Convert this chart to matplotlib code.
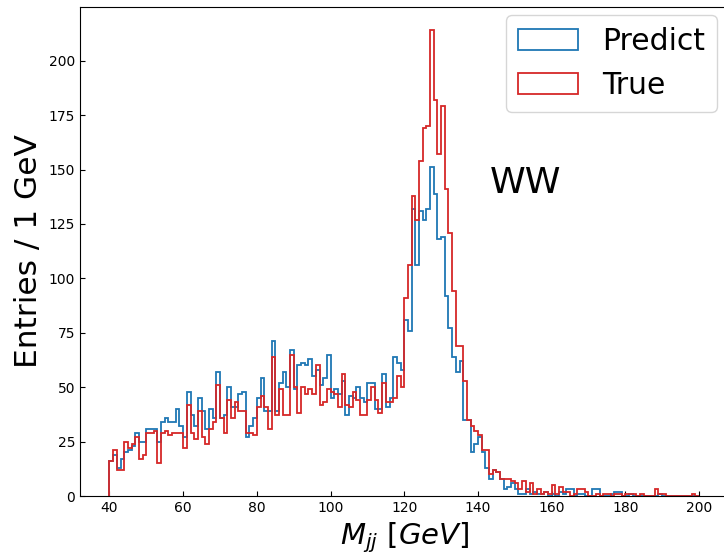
import numpy as np
import matplotlib
matplotlib.use("Agg")
import matplotlib.pyplot as plt

# 1 GeV bins from 40 to 200
edges = np.arange(40, 201, 1)

predict = [16, 19, 13, 17, 20, 21, 23, 29, 25, 25,
           31, 31, 31, 25, 34, 36, 34, 34, 40, 32,
           27, 48, 37, 32, 45, 39, 31, 40, 36, 57,
           36, 37, 50, 41, 41, 47, 48, 27, 32, 36,
           45, 54, 39, 39, 71, 39, 52, 57, 50, 67,
           49, 60, 61, 60, 63, 55, 58, 51, 54, 65,
           45, 49, 47, 53, 37, 46, 45, 50, 45, 43,
           52, 52, 40, 40, 56, 41, 45, 64, 61, 58,
           81, 76, 132, 106, 131, 127, 132, 151, 139, 118,
           119, 92, 77, 64, 57, 62, 35, 35, 20, 24,
           27, 20, 13, 8, 12, 11, 8, 3, 4, 6,
           3, 1, 1, 3, 1, 2, 1, 1, 2, 0,
           1, 0, 2, 1, 3, 3, 0, 1, 1, 0,
           0, 3, 3, 0, 0, 0, 1, 2, 2, 0,
           0, 1, 0, 0, 0, 0, 0, 0, 0, 1,
           0, 0, 0, 0, 0, 0, 0, 0, 0, 0]

true = [16, 21, 12, 12, 25, 22, 24, 27, 17, 19,
        29, 29, 30, 15, 29, 30, 28, 29, 29, 29,
        22, 42, 29, 26, 39, 27, 24, 31, 34, 51,
        36, 29, 44, 36, 43, 39, 39, 29, 29, 28,
        41, 46, 41, 31, 64, 37, 49, 37, 37, 65,
        50, 38, 50, 47, 49, 47, 60, 42, 43, 49,
        48, 47, 41, 56, 42, 41, 48, 44, 37, 37,
        44, 50, 44, 38, 52, 43, 43, 45, 55, 50,
        91, 106, 138, 127, 154, 169, 170, 214, 182, 157,
        179, 141, 121, 94, 69, 69, 53, 35, 32, 30,
        28, 21, 21, 10, 12, 11, 8, 8, 8, 7,
        6, 3, 7, 2, 6, 1, 3, 1, 2, 1,
        5, 1, 4, 2, 2, 0, 1, 3, 3, 2,
        0, 0, 1, 0, 1, 1, 0, 1, 1, 0,
        1, 1, 1, 0, 1, 0, 0, 0, 3, 1,
        1, 0, 0, 0, 0, 0, 0, 0, 1, 0]

centers = edges[:-1] + 0.5

fig = plt.figure(figsize=(7.24, 5.54), dpi=100)
ax = fig.add_axes([80 / 724, 58 / 554, 648.5 / 724, 489 / 554])

ax.hist(centers, bins=edges, weights=predict, histtype="step",
        color="#1f77b4", linewidth=1.3, label="Predict")
ax.hist(centers, bins=edges, weights=true, histtype="step",
        color="#d62728", linewidth=1.3, label="True")

ax.set_yticks(np.arange(0, 201, 25))
ax.set_xticks(np.arange(40, 201, 20))
ax.tick_params(direction="in", labelsize=10)

ax.set_xlabel(r"$M_{jj}\ [GeV]$", fontsize=21)
ax.set_ylabel("Entries / 1 GeV", fontsize=22.5)

ax.text(143.2, 144, "WW", fontsize=26, va="center")
ax.legend(loc="upper right", fontsize=21.5, borderaxespad=0,
          bbox_to_anchor=(0.982, 0.984))

fig.savefig("out.png", dpi=100)
